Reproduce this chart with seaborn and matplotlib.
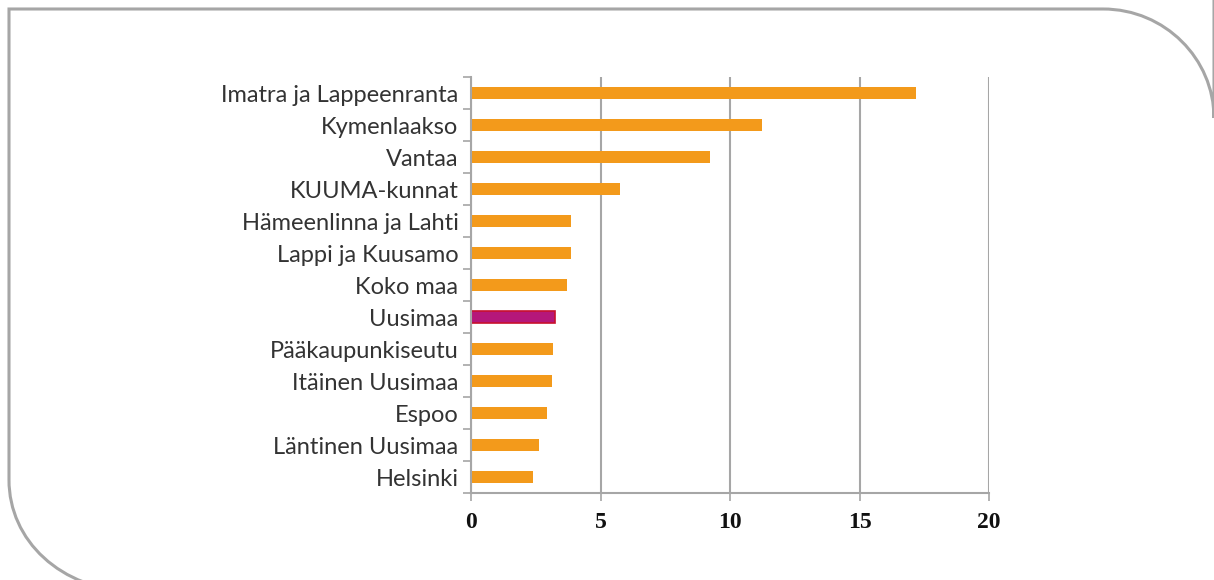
import pandas as pd
import matplotlib.pyplot as plt
import matplotlib.ticker as ticker
from matplotlib.path import Path
from matplotlib.patches import PathPatch
import seaborn as sns

# alueet ja arvot (luettu kuvasta)
regions = [
    "Imatra ja Lappeenranta", "Kymenlaakso", "Vantaa", "KUUMA-kunnat",
    "Hämeenlinna ja Lahti", "Lappi ja Kuusamo", "Koko maa", "Uusimaa",
    "Pääkaupunkiseutu", "Itäinen Uusimaa", "Espoo", "Läntinen Uusimaa", "Helsinki",
]
values = [17.2, 11.25, 9.23, 5.74, 3.87, 3.86, 3.70, 3.24, 3.17, 3.11, 2.94, 2.62, 2.41]
highlight = "Uusimaa"
x_ticks = [0, 5, 10, 15, 20]

ORANGE = "#F39A1B"
PURPLE = "#B5177A"
GRAY = "#A6A6A6"

df = pd.DataFrame({"alue": regions, "arvo": values})
palette = {r: (PURPLE if r == highlight else ORANGE) for r in regions}

sns.set_style("white")
plt.rcParams["font.family"] = ["Lato", "DejaVu Sans"]

fig = plt.figure(figsize=(12.14, 5.8), dpi=100)
ax = fig.add_axes([471 / 1214, 1 - 493 / 580, (989 - 471) / 1214, (493 - 77) / 580])

sns.barplot(data=df, y="alue", x="arvo", hue="alue", palette=palette,
            orient="h", width=0.4, saturation=1, legend=False, ax=ax, linewidth=0)

# Uusimaa-palkin punainen reunus
for patch, r in zip(ax.patches, regions):
    if r == highlight:
        patch.set_edgecolor("#C8102E")
        patch.set_linewidth(1.2)

ax.set_xlim(0, 20)
ax.set_ylim(len(regions) - 0.5, -0.5)
ax.set_xlabel("")
ax.set_ylabel("")

# pystysuuntaiset apuviivat
ax.set_xticks(x_ticks)
ax.xaxis.grid(True, color=GRAY, linewidth=1.5)
ax.set_axisbelow(True)

for s in ["top", "right"]:
    ax.spines[s].set_visible(False)
for s in ["left", "bottom"]:
    ax.spines[s].set_color(GRAY)
    ax.spines[s].set_linewidth(1.5)

# y-akselin tikit luokkien rajoille
ax.set_yticks([i - 0.5 for i in range(len(regions) + 1)], minor=False)
ax.set_yticklabels([])
ax.set_yticks(range(len(regions)), minor=True)
ax.set_yticklabels(regions, minor=True)
ax.tick_params(axis="y", which="major", length=6, width=1.2, color=GRAY, direction="out", left=True)
ax.tick_params(axis="y", which="minor", length=0, pad=9)
for lab in ax.get_yticklabels(minor=True):
    lab.set_fontsize(17)
    lab.set_color("#333333")

ax.tick_params(axis="x", length=6, width=1.2, color=GRAY, direction="out", bottom=True, pad=8)
ax.xaxis.set_major_formatter(ticker.FuncFormatter(lambda x, _: f"{int(x)}"))
for lab in ax.get_xticklabels():
    lab.set_fontfamily(["Liberation Serif", "DejaVu Serif"])
    lab.set_fontweight("bold")
    lab.set_fontsize(17)
    lab.set_color("#111111")

# pyöristetty kehys (pikseleinä, y alhaalta)
H = 580
verts = [
    (135, H - 592),
    (135 - 75, H - 590), (9, H - 480 - 60), (9, H - 480),
    (9, H - 9), (1103, H - 9),
    (1103 + 62, H - 9), (1214, H - 9 - 50), (1214, H - 118),
    (1214, H + 10),
]
codes = [Path.MOVETO,
         Path.CURVE4, Path.CURVE4, Path.CURVE4,
         Path.LINETO, Path.LINETO,
         Path.CURVE4, Path.CURVE4, Path.CURVE4,
         Path.LINETO]
frame = PathPatch(Path(verts, codes), transform=None, fill=False,
                  edgecolor=GRAY, linewidth=2.2)
fig.patches.append(frame)

fig.savefig("out.png", dpi=100)
